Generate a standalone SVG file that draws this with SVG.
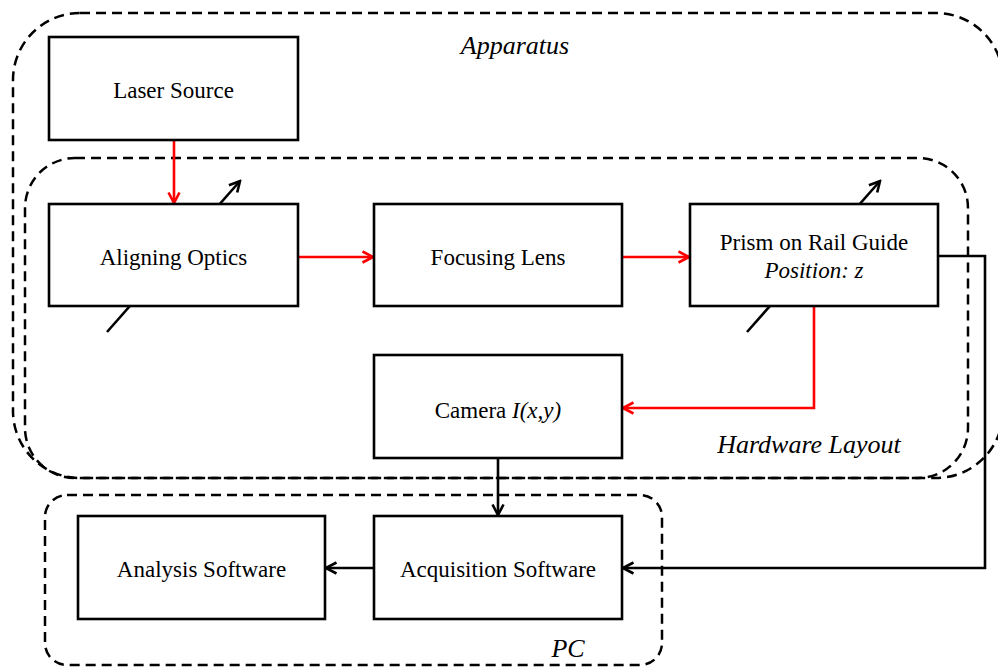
<svg xmlns="http://www.w3.org/2000/svg" width="998" height="668" viewBox="0 0 998 668">
  <style>
    .frame { fill: none; stroke: #000; stroke-width: 2.5; stroke-dasharray: 10 6; }
    .box { fill: #fff; stroke: #000; stroke-width: 2.6; }
    .lbl { font-family: "Liberation Serif", "Times New Roman", serif; font-size: 23px; fill: #000; text-anchor: middle; }
    .it { font-style: italic; }
    .tag { font-size: 26px; }
    .red { fill: none; stroke: #ff0000; stroke-width: 2.6; marker-end: url(#headRed); }
    .blk { fill: none; stroke: #000; stroke-width: 2.6; marker-end: url(#headBlk); }
  </style>
  <defs>
    <marker id="headRed" viewBox="0 0 14 14" refX="12" refY="7" markerWidth="14" markerHeight="14" markerUnits="userSpaceOnUse" orient="auto">
      <path d="M1.5,1.5 L12,7 L1.5,12.5" fill="none" stroke="#ff0000" stroke-width="2.6"/>
    </marker>
    <marker id="headBlk" viewBox="0 0 14 14" refX="12" refY="7" markerWidth="14" markerHeight="14" markerUnits="userSpaceOnUse" orient="auto">
      <path d="M1.5,1.5 L12,7 L1.5,12.5" fill="none" stroke="#000" stroke-width="2.6"/>
    </marker>
  </defs>

  <!-- grouping frames -->
  <g id="apparatus">
    <rect class="frame" x="13" y="13" width="990" height="465" rx="67" ry="67"/>
    <text class="lbl it tag" x="515" y="54">Apparatus</text>
  </g>
  <g id="hardware-layout">
    <rect class="frame" x="25" y="158" width="943" height="320" rx="50" ry="50"/>
    <text class="lbl it tag" x="809" y="453">Hardware Layout</text>
  </g>
  <g id="pc">
    <rect class="frame" x="45" y="495" width="617" height="170" rx="22" ry="22"/>
    <text class="lbl it tag" x="568" y="657">PC</text>
  </g>

  <!-- adjustment arrows behind the movable parts -->
  <g id="adjusters">
    <line class="blk" x1="107" y1="332" x2="240" y2="181"/>
    <line class="blk" x1="747" y1="332" x2="880" y2="181"/>
  </g>

  <!-- connectors -->
  <g id="connectors">
    <line class="red" x1="174" y1="140" x2="174" y2="203"/>
    <line class="red" x1="298" y1="257" x2="373" y2="257"/>
    <line class="red" x1="622" y1="257" x2="689" y2="257"/>
    <polyline class="red" points="814,306 814,408 623,408"/>
    <line class="blk" x1="498" y1="458" x2="498" y2="515"/>
    <polyline class="blk" points="938,256 985,256 985,568 623,568"/>
    <line class="blk" x1="374" y1="568" x2="326" y2="568"/>
  </g>

  <!-- nodes -->
  <g id="laser-source">
    <rect class="box" x="49" y="37" width="249" height="103"/>
    <text class="lbl" x="173.5" y="98">Laser Source</text>
  </g>
  <g id="aligning-optics">
    <rect class="box" x="49" y="204" width="249" height="102"/>
    <text class="lbl" x="173.5" y="265">Aligning Optics</text>
  </g>
  <g id="focusing-lens">
    <rect class="box" x="374" y="204" width="248" height="102"/>
    <text class="lbl" x="498" y="265">Focusing Lens</text>
  </g>
  <g id="prism">
    <rect class="box" x="690" y="204" width="248" height="102"/>
    <text class="lbl" x="814" y="250">Prism on Rail Guide</text>
    <text class="lbl it" x="814" y="278">Position: z</text>
  </g>
  <g id="camera">
    <rect class="box" x="374" y="355" width="248" height="103"/>
    <text class="lbl" x="498" y="418">Camera <tspan class="it">I(x,y)</tspan></text>
  </g>
  <g id="analysis-software">
    <rect class="box" x="78" y="516" width="247" height="103"/>
    <text class="lbl" x="201.5" y="577">Analysis Software</text>
  </g>
  <g id="acquisition-software">
    <rect class="box" x="374" y="516" width="248" height="103"/>
    <text class="lbl" x="498" y="577">Acquisition Software</text>
  </g>
</svg>
